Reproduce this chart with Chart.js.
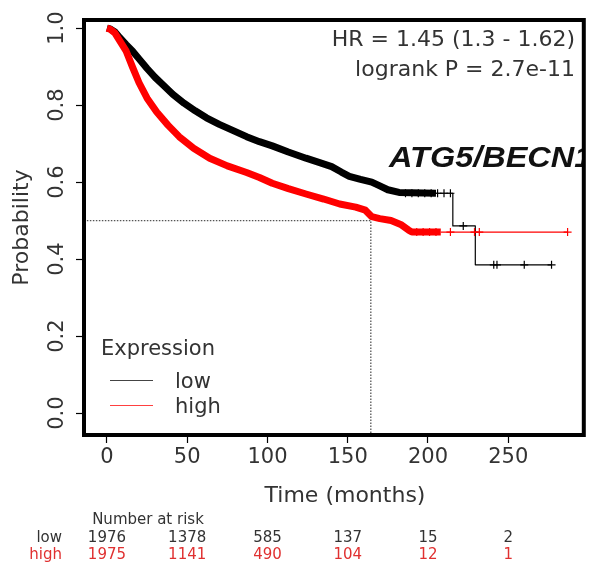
<!DOCTYPE html>
<html>
<head>
<meta charset="utf-8">
<script src="https://cdn.jsdelivr.net/npm/chart.js@4"></script>
<style>
  html, body { margin: 0; padding: 0; background: #fff; }
  #wrap { width: 589px; height: 569px; }
</style>
</head>
<body>
<div id="wrap"><canvas id="km"></canvas></div>
<script>
// survival curves (time in months, probability)
const lowTimes = [0, 2, 5, 8, 12, 16, 20, 25, 30, 35, 41, 48, 55, 62, 70, 78, 87, 95, 103, 113, 124, 133, 140, 146, 151, 158, 165, 170, 175, 182, 205, 215.5, 215.5, 229.5, 229.5, 277];
const lowSurv  = [1, 0.998, 0.99, 0.975, 0.957, 0.94, 0.92, 0.895, 0.872, 0.852, 0.828, 0.805, 0.785, 0.767, 0.75, 0.735, 0.718, 0.705, 0.694, 0.678, 0.662, 0.65, 0.64, 0.626, 0.615, 0.607, 0.6, 0.59, 0.58, 0.573, 0.571, 0.571, 0.486, 0.486, 0.385, 0.385];
const highTimes = [0, 2, 5, 8, 12, 16, 20, 25, 31, 38, 45, 54, 64, 75, 87, 95, 103, 113, 124, 135, 145, 155, 161, 165, 170, 177, 183, 188, 190, 208, 287];
const highSurv  = [1, 0.997, 0.987, 0.967, 0.94, 0.898, 0.858, 0.818, 0.782, 0.748, 0.718, 0.688, 0.662, 0.642, 0.625, 0.612, 0.597, 0.583, 0.569, 0.556, 0.543, 0.535, 0.527, 0.51, 0.505, 0.5, 0.49, 0.475, 0.47, 0.47, 0.47];

// censored patients in the sparse tail
const lowCensorT = [186, 190, 194, 198, 202, 206, 210, 214, 222, 241, 243, 260, 277];
const lowCensorS = [0.571, 0.571, 0.571, 0.571, 0.571, 0.571, 0.571, 0.571, 0.486, 0.385, 0.385, 0.385, 0.385];
const highCensorT = [193, 197, 201, 205, 214, 229, 232, 287];
const highCensorS = [0.47, 0.47, 0.47, 0.47, 0.47, 0.47, 0.47, 0.47];

const medianTime = 164.4;
const denseEndLow = 205;
const denseEndHigh = 208;

// number at risk table
const riskTimes = [0, 50, 100, 150, 200, 250];
const riskLow = [1976, 1378, 585, 137, 15, 2];
const riskHigh = [1975, 1141, 490, 104, 12, 1];

const xTicks = [0, 50, 100, 150, 200, 250];
const yTicks = [0, 0.2, 0.4, 0.6, 0.8, 1.0];

const toPts = (ts, ss) => ts.map((t, i) => ({ x: t, y: ss[i] }));

const RED = '#ff0000';
const TXT = '#333333';
const FONT = '"DejaVu Sans", sans-serif';

function txt(ctx, s, x, y, size, color, align, opts) {
  opts = opts || {};
  ctx.save();
  ctx.font = (opts.style || '') + ' ' + size + 'px ' + (opts.family || FONT);
  ctx.fillStyle = color;
  ctx.textAlign = align || 'left';
  ctx.textBaseline = opts.baseline || 'alphabetic';
  ctx.translate(x, y);
  if (opts.rot) ctx.rotate(opts.rot);
  if (opts.sx) ctx.scale(opts.sx, 1);
  ctx.fillText(s, 0, 0);
  ctx.restore();
}

const decor = {
  id: 'decor',
  beforeDraw(chart) {
    const ctx = chart.ctx;
    ctx.save();
    ctx.fillStyle = '#fff';
    ctx.fillRect(0, 0, chart.width, chart.height);
    ctx.restore();
  },
  afterDraw(chart) {
    const ctx = chart.ctx;
    const a = chart.chartArea;
    const xs = chart.scales.x;

    // gene label, clipped by the box
    ctx.save();
    ctx.beginPath();
    ctx.rect(a.left, a.top, a.right - a.left, a.bottom - a.top);
    ctx.clip();
    txt(ctx, 'ATG5/BECN1', 389, 167, 29, '#111', 'left', { style: 'italic bold', family: '"Liberation Sans", Arial, sans-serif', sx: 1.12 });
    ctx.restore();

    // box
    ctx.save();
    ctx.strokeStyle = '#000';
    ctx.lineWidth = 4;
    ctx.strokeRect(a.left, a.top, a.right - a.left, a.bottom - a.top);
    ctx.restore();

    // stats
    txt(ctx, 'HR = 1.45 (1.3 - 1.62)', 575, 46, 22, TXT, 'right');
    txt(ctx, 'logrank P = 2.7e-11', 575, 76, 22, TXT, 'right');

    // legend
    txt(ctx, 'Expression', 101, 355, 21, TXT, 'left');
    ctx.save();
    ctx.lineWidth = 1.2;
    ctx.strokeStyle = '#444';
    ctx.beginPath(); ctx.moveTo(110, 380.5); ctx.lineTo(153, 380.5); ctx.stroke();
    ctx.strokeStyle = '#ff4040';
    ctx.beginPath(); ctx.moveTo(110, 405.5); ctx.lineTo(153, 405.5); ctx.stroke();
    ctx.restore();
    txt(ctx, 'low', 175, 388, 21, TXT, 'left');
    txt(ctx, 'high', 175, 413, 21, TXT, 'left');

    // axis titles
    txt(ctx, 'Time (months)', 345, 502, 22, TXT, 'center');
    txt(ctx, 'Probability', 28, (a.top + a.bottom) / 2, 22, TXT, 'center', { rot: -Math.PI / 2 });

    // number at risk
    txt(ctx, 'Number at risk', 148, 524, 15, TXT, 'center');
    txt(ctx, 'low', 62, 542, 15, TXT, 'right');
    txt(ctx, 'high', 62, 559, 15, '#e03030', 'right');
    riskTimes.forEach((t, i) => {
      const px = xs.getPixelForValue(t);
      txt(ctx, String(riskLow[i]), px, 542, 15, TXT, 'center');
      txt(ctx, String(riskHigh[i]), px, 559, 15, '#e03030', 'center');
    });
  }
};

new Chart(document.getElementById('km'), {
  type: 'line',
  data: {
    datasets: [
      {
        label: 'median',
        data: [{ x: -20, y: 0.5 }, { x: medianTime, y: 0.5 }, { x: medianTime, y: -0.1 }],
        borderColor: '#555',
        borderWidth: 1.3,
        borderDash: [1.5, 1.5],
        pointRadius: 0,
        order: 5
      },
      {
        label: 'low',
        data: toPts(lowTimes, lowSurv),
        borderColor: '#000',
        pointRadius: 0,
        borderJoinStyle: 'round',
        segment: { borderWidth: c => c.p0.parsed.x < denseEndLow ? 7 : 1.2 },
        order: 2
      },
      {
        label: 'high',
        data: toPts(highTimes, highSurv),
        borderColor: RED,
        pointRadius: 0,
        borderJoinStyle: 'round',
        segment: { borderWidth: c => c.p0.parsed.x < denseEndHigh ? 7 : 1.2 },
        order: 1
      },
      {
        label: 'low censored',
        data: toPts(lowCensorT, lowCensorS),
        showLine: false,
        pointStyle: 'cross',
        pointRadius: 4,
        pointBorderWidth: 1.2,
        pointBorderColor: '#000',
        order: 2
      },
      {
        label: 'high censored',
        data: toPts(highCensorT, highCensorS),
        showLine: false,
        pointStyle: 'cross',
        pointRadius: 4,
        pointBorderWidth: 1.2,
        pointBorderColor: RED,
        order: 1
      }
    ]
  },
  options: {
    responsive: true,
    maintainAspectRatio: false,
    animation: false,
    layout: { padding: { top: 20, right: 3, left: 0, bottom: 0 } },
    plugins: { legend: { display: false }, tooltip: { enabled: false } },
    scales: {
      x: {
        type: 'linear',
        min: -14.3,
        max: 297.1,
        afterFit: s => { s.height = 134; },
        afterBuildTicks: s => { s.ticks = xTicks.map(v => ({ value: v })); },
        grid: { drawOnChartArea: false, drawTicks: true, tickLength: 8, tickColor: '#000', tickWidth: 1.2 },
        border: { display: false },
        ticks: { padding: 2, color: TXT, font: { family: FONT, size: 21 } }
      },
      y: {
        type: 'linear',
        min: -0.057,
        max: 1.021,
        afterFit: s => { s.width = 84; },
        afterBuildTicks: s => { s.ticks = yTicks.map(v => ({ value: v })); },
        grid: { drawOnChartArea: false, drawTicks: true, tickLength: 8, tickColor: '#000', tickWidth: 1.2 },
        border: { display: false },
        ticks: {
          padding: 2,
          minRotation: 90,
          maxRotation: 90,
          crossAlign: 'center',
          color: TXT,
          font: { family: FONT, size: 21 },
          callback: v => v.toFixed(1)
        }
      }
    }
  },
  plugins: [decor]
});
</script>
</body>
</html>
